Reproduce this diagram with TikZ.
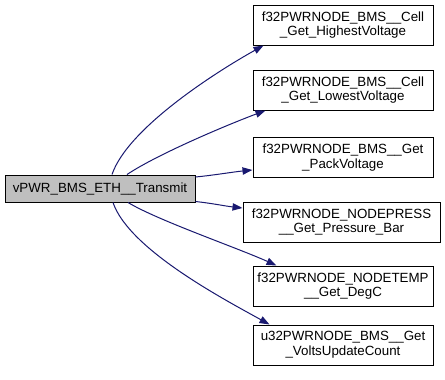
\documentclass[tikz,border=0pt]{standalone}
\usepackage{fontspec}
\setmainfont{Liberation Sans}
\usepackage{xcolor}
\usetikzlibrary{arrows.meta,calc}

\definecolor{edgeblue}{HTML}{191970}
\definecolor{callergray}{HTML}{BFBFBF}

\begin{document}
\begin{tikzpicture}[
    x=0.75pt, y=-0.75pt,
    font=\fontsize{10pt}{11pt}\selectfont,
    func/.style={rectangle, draw, line width=0.75pt, fill=white, minimum width=135pt, minimum height=30pt, inner sep=0pt, align=center},
    caller/.style={rectangle, draw, line width=0.75pt, fill=callergray, minimum width=142.5pt, minimum height=20.25pt, inner sep=0pt, align=center},
    arrow/.style={-{Triangle[length=7.5pt,width=5.5pt]}, edgeblue, line width=0.75pt}
]
    \useasboundingbox (0,0) rectangle (445,379);

    % caller on the left
    \node[caller] (tx) at (100,188.5) {vPWR\_BMS\_ETH\_\_Transmit};

    % called functions
    \node[func] (hi)    at (343,25)    {f32PWRNODE\_BMS\_\_Cell\\\_Get\_HighestVoltage};
    \node[func] (lo)    at (343,90)    {f32PWRNODE\_BMS\_\_Cell\\\_Get\_LowestVoltage};
    \node[func] (pack)  at (343,157.5) {f32PWRNODE\_BMS\_\_Get\\\_PackVoltage};
    \node[func, minimum width=147.75pt] (press) at (341.5,222) {f32PWRNODE\_NODEPRESS\\\_\_Get\_Pressure\_Bar};
    \node[func] (temp)  at (343,286)   {f32PWRNODE\_NODETEMP\\\_\_Get\_DegC};
    \node[func] (volts) at (343,345)   {u32PWRNODE\_BMS\_\_Get\\\_VoltsUpdateCount};

    % call edges
    \draw[arrow] ($(tx.north)+(12,0)$) .. controls +(16,-47) and +(-45,25) .. ($(hi.south west)+(11,0)$);
    \draw[arrow] ($(tx.north)+(27,0)$) .. controls +(30,-20) and +(-40,15) .. ($(lo.south west)+(13,0)$);
    \draw[arrow] ($(tx.east)+(0,-11.5)$) .. controls +(20,-2) and +(-20,2) .. ($(pack.west)+(0,12.5)$);
    \draw[arrow] ($(tx.east)+(0,13)$) .. controls +(18,2) and +(-18,-2) .. ($(press.west)+(0,-14)$);
    \draw[arrow] ($(tx.south)+(28,0)$) .. controls +(30,18) and +(-40,-18) .. ($(temp.north west)+(24,0)$);
    \draw[arrow] ($(tx.south)+(13,0)$) .. controls +(16,47) and +(-45,-25) .. ($(volts.north west)+(17,0)$);
\end{tikzpicture}
\end{document}
